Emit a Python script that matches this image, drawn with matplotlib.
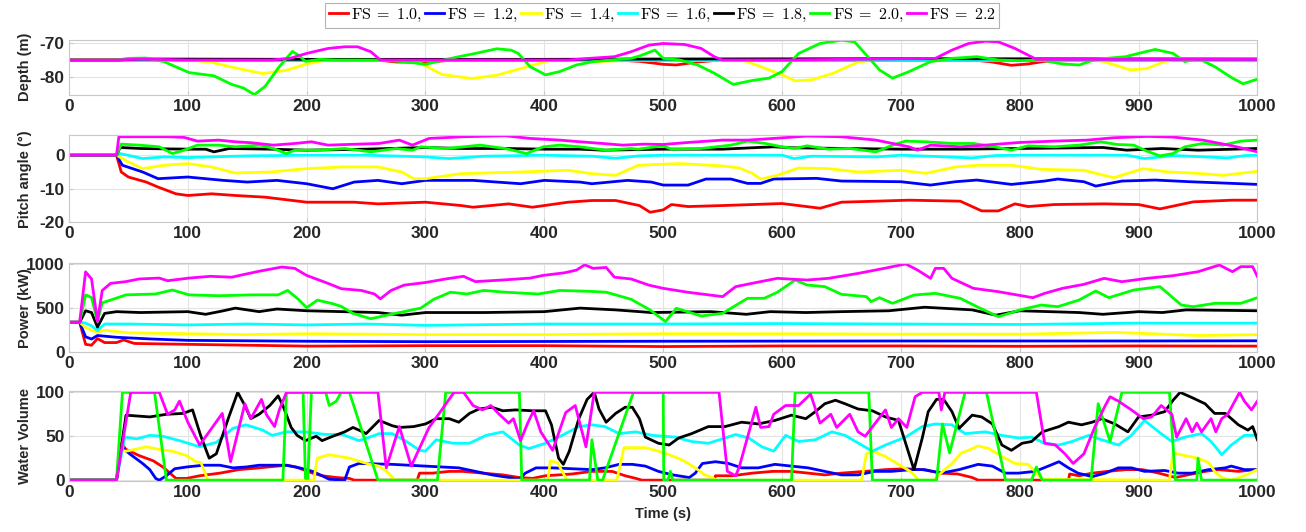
import matplotlib
matplotlib.use('Agg')
import matplotlib.pyplot as plt

plt.rcParams['mathtext.fontset'] = 'cm'
plt.rcParams['font.family'] = ['Liberation Sans', 'DejaVu Sans']
plt.rcParams['axes.unicode_minus'] = False

SERIES = ['1.0', '1.2', '1.4', '1.6', '1.8', '2.0', '2.2']
COLORS = ['#ff0000', '#0000ff', '#ffff00', '#00ffff', '#000000', '#00ff00', '#ff00ff']
XTICKS = list(range(0, 1001, 100))

# ---- depth (m) ----
depth_red = [(0, -75), (260, -75), (275, -75.6), (300, -75.7), (320, -75.1), (470, -75.2), (480, -75.4),
             (500, -76.3), (511, -76.5), (529, -75.6), (545, -75.1), (760, -75), (775, -75.5), (793, -76.6),
             (807, -76.2), (821, -75.4), (850, -75.1), (1000, -75.2)]
depth_blue = [(0, -75), (1000, -75)]
depth_yellow = [(0, -75), (100, -75), (119, -75.6), (140, -77.4), (163, -79.1), (183, -78.1), (200, -76.2),
                (215, -75.1), (280, -75.1), (296, -76), (314, -79.4), (339, -80.6), (360, -79.6), (381, -77.5),
                (404, -75.2), (420, -75), (445, -75.5), (467, -75.1), (568, -75.2), (582, -77), (600, -79.5),
                (611, -81.3), (625, -81), (643, -79), (664, -75.6), (679, -75), (864, -75), (871, -75.5),
                (893, -78), (907, -77.6), (921, -75.6), (929, -75), (1000, -75)]
depth_cyan = [(0, -75), (1000, -75)]
depth_black = [(0, -75), (40, -75), (60, -74.7), (200, -74.8), (400, -74.8), (500, -74.7), (700, -74.6),
               (1000, -74.7)]
depth_green = [(0, -75), (40, -75), (50, -74.5), (65, -74.4), (80, -75.5), (101, -78.8), (122, -79.8),
               (137, -82.4), (147, -83.5), (156, -85.5), (165, -83), (177, -77), (188, -72.4), (193, -73.5),
               (199, -75.4), (211, -74.8), (225, -75), (261, -75), (282, -75.5), (300, -76.3), (314, -75.1),
               (328, -74), (342, -73), (360, -71.6), (372, -72), (378, -73), (388, -77), (401, -79.5),
               (413, -78.5), (427, -76.5), (441, -75.5), (456, -75), (473, -74.5), (480, -73.8), (493, -72),
               (500, -74.5), (514, -75), (529, -76.5), (543, -79), (559, -82.4), (575, -81.2), (589, -80.5),
               (600, -78.5), (614, -73), (632, -70), (650, -69), (661, -69.5), (671, -73.5), (682, -78),
               (693, -80.5), (707, -78.5), (725, -75.5), (743, -74.5), (764, -74), (782, -75), (800, -75.2),
               (818, -75), (836, -76.2), (850, -76.5), (864, -74.8), (889, -74), (900, -73), (914, -71.8),
               (929, -73), (939, -75.5), (950, -74.5), (964, -77), (979, -80.5), (988, -82.2), (1000, -80.8)]
depth_magenta = [(0, -75), (40, -75), (60, -74.7), (100, -75), (170, -75), (186, -74.5), (200, -73),
                 (218, -71.5), (232, -71), (243, -71), (254, -72.5), (262, -75), (278, -75), (420, -75),
                 (438, -74.5), (459, -74), (473, -72.5), (488, -70.5), (500, -70), (518, -70.3), (532, -71.5),
                 (543, -74), (550, -75), (600, -75), (729, -74.5), (743, -72), (757, -70), (771, -69.3),
                 (782, -69.5), (796, -71.5), (814, -74.8), (1000, -74.8)]

# ---- pitch angle (deg) ----
pitch_red = [(0, 0), (40, 0), (44, -5), (50, -6.5), (65, -8), (75, -9.5), (90, -11.5), (100, -12), (120, -11.5),
             (140, -12), (165, -12.5), (200, -14), (240, -14), (260, -14.5), (300, -14), (330, -15),
             (340, -15.5), (370, -14.5), (390, -15.5), (420, -14), (440, -13.5), (460, -13.5), (480, -15),
             (489, -17), (500, -16.3), (507, -14.7), (521, -15.3), (550, -15), (600, -14.4), (632, -15.8),
             (650, -14), (679, -13.7), (707, -13.4), (750, -13.7), (768, -16.6), (782, -16.6), (796, -14.5),
             (807, -15.3), (829, -14.7), (871, -14.5), (900, -14.7), (918, -16), (946, -13.9), (979, -13.4),
             (1000, -13.4)]
pitch_blue = [(0, 0), (40, 0), (45, -3), (62, -5), (75, -7), (100, -6.5), (130, -7.5), (150, -8), (175, -7.5),
              (200, -8.5), (222, -10), (240, -8), (260, -7.5), (280, -8.5), (300, -7.5), (340, -7.5),
              (360, -8), (380, -8.5), (400, -7.5), (430, -8), (440, -8.5), (470, -7.5), (490, -8), (500, -8.9),
              (521, -8.9), (536, -7.1), (557, -7.1), (571, -8.4), (582, -8.4), (593, -7.1), (629, -6.9),
              (650, -7.7), (700, -7.9), (725, -8.9), (746, -7.9), (764, -7.4), (793, -8.7), (821, -7.7),
              (832, -7.1), (854, -7.9), (864, -9.2), (886, -7.7), (914, -7.4), (943, -7.9), (979, -8.4),
              (1000, -8.7)]
pitch_yellow = [(0, 0), (40, 0), (50, -2), (62, -4), (80, -3), (100, -2.5), (120, -3.5), (140, -5.3),
                (170, -5), (200, -4), (230, -3.5), (260, -3.5), (280, -5), (290, -7), (300, -7), (330, -5.5),
                (380, -5), (420, -4.5), (440, -5.5), (460, -6), (479, -3), (514, -2.5), (550, -3.2),
                (564, -3.8), (575, -5.4), (582, -7.1), (596, -6), (614, -3.8), (639, -4), (664, -5),
                (700, -4.5), (721, -5.4), (746, -3.5), (764, -3), (793, -3), (818, -4.2), (854, -4.5),
                (879, -6.7), (904, -4), (925, -5), (950, -5.4), (971, -6), (1000, -4.8)]
pitch_cyan = [(0, 0), (40, 0), (43, 0.5), (62, -1), (80, -0.5), (100, -0.7), (150, -0.2), (200, 0), (250, 0),
              (300, -0.5), (320, -1), (350, -0.3), (400, 0), (440, -0.3), (460, -0.9), (480, -0.2), (500, 0),
              (600, 0), (610, -1), (625, -0.3), (680, -0.5), (700, 0), (760, -0.8), (780, -0.1), (800, 0),
              (890, 0), (905, -1), (930, -0.1), (975, -0.8), (990, -0.1), (1000, 0)]
pitch_black = [(0, 0), (40, 0), (43, 2.3), (60, 2), (100, 1.8), (115, 1.8), (122, 1), (135, 2), (170, 1.8),
               (200, 1.5), (250, 1.8), (300, 2.3), (330, 2), (367, 2), (400, 1.8), (430, 1.8), (450, 1.5),
               (500, 1.8), (550, 1.8), (580, 2.3), (593, 2.5), (610, 2.2), (700, 1.8), (750, 1.8), (800, 2),
               (870, 2.3), (890, 1.5), (920, 2), (950, 1.5), (1000, 2)]
pitch_green = [(0, 0), (40, 0), (44, 3.3), (59, 3), (76, 2.5), (87, 0.5), (97, 1.5), (108, 3), (126, 3),
               (140, 2.5), (161, 3), (172, 2), (183, 0.5), (190, 1.5), (210, 1.5), (232, 2), (254, 1), (275, 2),
               (289, 1.5), (296, 2.5), (317, 2), (332, 2.5), (346, 3), (367, 2), (385, 0.5), (399, 2.5),
               (413, 3), (430, 2.5), (452, 1.5), (473, 2), (479, 1.8), (493, 2.5), (500, 2.8), (507, 1.8),
               (532, 2), (557, 3), (571, 4.2), (586, 3.5), (600, 2.5), (611, 2), (621, 2.8), (639, 1.8),
               (657, 2), (679, 1), (693, 3), (704, 4.2), (721, 4), (743, 3.5), (761, 3.5), (779, 2.5),
               (793, 1.5), (807, 2.8), (829, 2.5), (850, 3), (868, 4), (882, 3.2), (896, 3), (907, 1.2),
               (918, -0.2), (929, 0.5), (939, 2.5), (954, 3.5), (971, 3), (986, 4.2), (1000, 4.5)]
pitch_magenta = [(0, 0), (40, 0), (42, 5.5), (83, 5.5), (97, 5.3), (108, 4.2), (126, 4.5), (140, 4),
                 (154, 3.7), (172, 3), (190, 3.5), (204, 4), (218, 3), (243, 3.3), (261, 3.5), (278, 4.5),
                 (289, 3), (303, 5), (332, 5.5), (367, 5.8), (388, 5), (413, 4.5), (430, 4), (449, 3.5),
                 (466, 3), (484, 3.3), (500, 3.2), (521, 3.8), (550, 4.5), (571, 4.5), (593, 5), (621, 5.7),
                 (650, 5.5), (679, 4.5), (707, 2.5), (714, 1.5), (725, 3), (750, 2.5), (771, 3), (800, 3.8),
                 (829, 4.2), (857, 4.5), (879, 5.2), (907, 5.6), (929, 5.4), (954, 4.5), (979, 2.8), (1000, 1)]

# ---- power (kW) ----
power_red = [(0, 340), (9, 340), (14, 90), (19, 80), (24, 155), (30, 110), (40, 110), (46, 140), (55, 100),
             (100, 90), (200, 70), (300, 75), (400, 75), (500, 65), (600, 72), (700, 72), (800, 68), (900, 72),
             (1000, 70)]
power_blue = [(0, 340), (9, 340), (14, 175), (19, 150), (24, 190), (40, 170), (70, 150), (100, 135),
              (200, 125), (300, 120), (500, 125), (700, 128), (900, 128), (1000, 130)]
power_yellow = [(0, 340), (9, 340), (14, 280), (19, 250), (24, 225), (30, 250), (50, 220), (100, 210),
                (150, 200), (200, 210), (300, 200), (400, 200), (500, 210), (600, 210), (700, 205), (800, 205),
                (880, 225), (950, 190), (1000, 200)]
power_cyan = [(0, 340), (9, 340), (14, 330), (19, 300), (24, 245), (30, 320), (50, 320), (100, 310),
              (150, 320), (200, 310), (250, 320), (300, 305), (400, 320), (500, 320), (600, 325), (700, 320),
              (800, 315), (900, 330), (1000, 330)]
power_black = [(0, 340), (9, 340), (14, 470), (19, 450), (24, 285), (30, 440), (40, 460), (60, 450),
               (100, 460), (115, 430), (130, 470), (140, 500), (160, 460), (175, 490), (200, 470), (230, 460),
               (260, 450), (280, 420), (300, 450), (350, 450), (400, 460), (430, 500), (460, 480), (490, 450),
               (540, 460), (570, 430), (590, 460), (620, 450), (650, 460), (690, 470), (720, 510), (760, 480),
               (780, 420), (800, 470), (850, 450), (870, 430), (900, 460), (920, 450), (940, 480), (1000, 470)]
power_green = [(0, 340), (9, 340), (14, 650), (19, 620), (24, 350), (28, 560), (37, 600), (48, 650),
               (73, 660), (87, 705), (101, 650), (126, 640), (154, 650), (176, 650), (184, 700), (193, 600),
               (200, 505), (209, 590), (222, 550), (229, 520), (239, 440), (254, 380), (271, 430), (289, 480),
               (296, 500), (307, 600), (321, 680), (335, 660), (349, 700), (367, 680), (395, 660), (413, 700),
               (438, 690), (452, 680), (473, 600), (479, 554), (489, 479), (502, 347), (511, 498), (532, 411),
               (550, 441), (571, 611), (585, 611), (596, 679), (611, 818), (621, 762), (636, 743), (650, 656),
               (671, 630), (675, 573), (682, 618), (693, 554), (711, 648), (729, 667), (750, 611), (764, 516),
               (782, 403), (800, 479), (818, 535), (832, 516), (850, 592), (864, 694), (875, 618), (896, 705),
               (918, 743), (936, 535), (946, 516), (964, 554), (986, 554), (1000, 618)]
power_magenta = [(0, 340), (9, 340), (14, 910), (19, 830), (24, 350), (28, 700), (35, 780), (48, 800),
                 (59, 830), (76, 840), (83, 810), (101, 840), (119, 860), (137, 850), (147, 880), (161, 920),
                 (179, 965), (190, 950), (200, 870), (218, 780), (229, 720), (246, 700), (257, 660), (262, 605),
                 (271, 700), (282, 760), (300, 790), (317, 830), (332, 860), (342, 800), (367, 820), (388, 840),
                 (399, 870), (417, 900), (427, 930), (434, 990), (441, 950), (452, 960), (459, 850), (473, 830),
                 (488, 760), (500, 724), (521, 679), (550, 630), (561, 743), (579, 792), (596, 837), (621, 818),
                 (639, 837), (664, 893), (686, 950), (704, 1000), (714, 931), (725, 837), (729, 950),
                 (736, 950), (743, 837), (761, 724), (782, 686), (811, 618), (821, 667), (836, 724), (854, 769),
                 (871, 837), (886, 799), (907, 837), (929, 867), (950, 912), (968, 988), (979, 912), (986, 969),
                 (996, 969), (1000, 856)]

# ---- water volume ----
water_red = [(0, 0), (40, 0), (44, 42), (48, 35), (59, 28), (71, 22), (79, 15), (85, 8), (90, 2), (99, 2),
             (110, 5), (127, 8), (143, 12), (160, 14), (183, 17), (191, 15), (205, 8), (213, 5), (225, 3),
             (236, 2), (240, 0), (293, 0), (295, 8), (306, 8), (320, 10), (331, 10), (348, 8), (365, 6),
             (379, 3), (390, 2), (401, 5), (423, 7), (440, 10), (457, 10), (468, 5), (477, 2), (482, 0),
             (543, 0), (544, 5), (558, 5), (575, 8), (592, 10), (608, 10), (622, 8), (636, 6), (650, 8),
             (670, 10), (687, 12), (704, 13), (718, 12), (734, 8), (748, 7), (760, 3), (765, 0), (841, 0),
             (842, 7), (850, 5), (861, 8), (874, 10), (889, 12), (903, 12), (917, 8), (931, 3), (945, 7),
             (956, 10), (967, 12), (984, 10), (1000, 12)]
water_blue = [(0, 0), (40, 0), (44, 38), (51, 30), (62, 19), (68, 12), (73, 2), (76, 0), (82, 5), (89, 13),
              (99, 15), (113, 17), (127, 17), (138, 14), (149, 15), (160, 17), (183, 17), (194, 14), (205, 10),
              (213, 5), (219, 1), (232, 0), (236, 15), (244, 19), (272, 18), (300, 16), (328, 14), (342, 10),
              (356, 6), (370, 3), (379, 1), (384, 8), (393, 14), (407, 14), (440, 12), (451, 14), (463, 18),
              (474, 18), (485, 16), (496, 10), (508, 6), (522, 3), (527, 8), (533, 19), (544, 21), (555, 19),
              (566, 14), (580, 14), (594, 18), (608, 16), (622, 14), (636, 10), (650, 6), (664, 6), (678, 10),
              (692, 10), (709, 12), (720, 12), (734, 8), (749, 12), (765, 18), (777, 16), (788, 8), (799, 8),
              (813, 10), (824, 16), (833, 21), (841, 14), (849, 8), (861, 4), (872, 8), (883, 14), (894, 14),
              (905, 10), (922, 11), (933, 8), (945, 8), (959, 12), (973, 14), (978, 16), (989, 12), (1000, 12)]
water_yellow = [(0, 0), (40, 0), (44, 34), (48, 33), (59, 36), (65, 38), (76, 35), (87, 33), (99, 28),
                (107, 21), (111, 20), (117, 0), (206, 0), (209, 25), (219, 29), (236, 25), (253, 18), (261, 16),
                (269, 8), (274, 0), (403, 0), (405, 22), (411, 20), (415, 10), (419, 0), (461, 0), (467, 37),
                (485, 37), (496, 33), (505, 29), (516, 23), (527, 14), (535, 6), (541, 3), (545, 0), (667, 0),
                (671, 30), (676, 33), (687, 27), (698, 18), (709, 9), (715, 0), (728, 0), (732, 6), (743, 19),
                (751, 31), (757, 34), (765, 39), (774, 36), (785, 27), (796, 19), (807, 18), (813, 10),
                (819, 1), (926, 0), (929, 31), (939, 28), (950, 25), (959, 20), (964, 10), (970, 3), (978, 0),
                (989, 5), (1000, 12)]
water_cyan = [(0, 0), (40, 0), (47, 49), (57, 47), (68, 51), (79, 50), (93, 45), (110, 38), (124, 43),
              (138, 59), (149, 63), (163, 57), (171, 51), (183, 55), (199, 55), (216, 52), (230, 52), (244, 45),
              (253, 49), (261, 53), (272, 53), (284, 44), (295, 34), (300, 33), (309, 46), (323, 42), (337, 42),
              (351, 51), (365, 55), (379, 40), (387, 36), (401, 42), (415, 51), (429, 61), (440, 63), (451, 61),
              (463, 53), (477, 55), (491, 51), (510, 49), (524, 44), (538, 42), (552, 48), (561, 52), (572, 48),
              (583, 38), (593, 33), (603, 51), (614, 44), (628, 46), (642, 55), (653, 51), (667, 40), (676, 33),
              (687, 40), (704, 49), (718, 61), (729, 64), (743, 63), (754, 53), (771, 55), (785, 51), (799, 48),
              (810, 49), (821, 42), (833, 40), (844, 44), (858, 51), (869, 46), (883, 40), (894, 51), (905, 68),
              (917, 55), (928, 44), (939, 49), (953, 53), (961, 44), (970, 29), (978, 40), (989, 51),
              (1000, 51)]
water_black = [(0, 0), (40, 0), (48, 74), (68, 72), (82, 75), (96, 76), (104, 80), (111, 50), (118, 25),
               (124, 30), (134, 70), (142, 100), (148, 85), (153, 70), (160, 75), (169, 85), (176, 96),
               (180, 85), (187, 60), (192, 51), (199, 45), (208, 50), (213, 45), (222, 50), (232, 55), (239, 60),
               (244, 57), (250, 53), (261, 68), (272, 62), (278, 60), (290, 61), (300, 64), (309, 70), (320, 70),
               (328, 66), (337, 76), (345, 81), (356, 83), (365, 79), (376, 80), (390, 79), (401, 79), (406, 63),
               (412, 25), (416, 18), (421, 33), (429, 70), (436, 92), (442, 100), (446, 81), (452, 66),
               (460, 76), (468, 83), (474, 83), (480, 70), (485, 49), (496, 42), (505, 40), (513, 48), (524, 53),
               (538, 61), (552, 61), (566, 66), (580, 64), (594, 68), (608, 74), (620, 70), (628, 78), (636, 87),
               (645, 91), (653, 87), (664, 81), (676, 79), (687, 72), (698, 68), (704, 42), (711, 12), (718, 48),
               (723, 78), (730, 92), (736, 92), (743, 78), (749, 59), (760, 74), (768, 72), (777, 64), (785, 40),
               (793, 34), (802, 42), (810, 44), (819, 55), (833, 61), (841, 66), (852, 63), (861, 66), (869, 70),
               (880, 64), (891, 55), (900, 72), (911, 74), (922, 78), (929, 91), (935, 100), (945, 94),
               (956, 87), (964, 76), (973, 76), (984, 63), (992, 57), (996, 61), (1000, 46)]
water_green = [(0, 0), (40, 0), (45, 100), (72, 100), (82, 0), (180, 0), (183, 100), (197, 100), (199, 2),
               (201, 2), (204, 100), (216, 100), (219, 85), (225, 90), (229, 100), (236, 100), (260, 0),
               (310, 0), (317, 100), (379, 100), (381, 0), (438, 0), (440, 46), (445, 0), (449, 0), (475, 100),
               (500, 100), (500.5, 0), (504, 0), (506, 10), (508, 0), (608, 0), (611, 100), (673, 100),
               (676, 0), (730, 0), (735, 64), (741, 31), (754, 100), (772, 100), (788, 0), (810, 0), (814, 15),
               (819, 0), (860, 0), (866, 87), (876, 44), (886, 100), (926, 100), (931, 0), (949, 0), (950, 25),
               (953, 0), (1000, 0)]
water_magenta = [(0, 0), (40, 0), (52, 100), (76, 100), (83, 75), (89, 80), (93, 90), (100, 66), (110, 40),
                 (129, 76), (136, 21), (148, 87), (153, 70), (162, 92), (166, 75), (173, 61), (177, 80),
                 (183, 100), (260, 100), (267, 14), (278, 61), (288, 16), (303, 60), (311, 75), (324, 100),
                 (332, 100), (340, 85), (348, 80), (355, 85), (362, 75), (370, 65), (374, 70), (380, 45),
                 (386, 65), (391, 79), (397, 55), (407, 34), (418, 77), (426, 85), (435, 38), (442, 100),
                 (547, 100), (554, 10), (561, 5), (564, 15), (578, 83), (582, 60), (589, 61), (593, 75),
                 (603, 85), (614, 85), (624, 98), (632, 65), (641, 75), (646, 60), (657, 75), (664, 55),
                 (670, 50), (687, 80), (692, 60), (698, 70), (705, 60), (712, 95), (718, 100), (732, 100),
                 (734, 80), (737, 100), (814, 100), (821, 42), (830, 40), (838, 30), (845, 19), (854, 30),
                 (863, 60), (872, 85), (876, 95), (883, 90), (894, 80), (904, 70), (911, 72), (919, 85),
                 (928, 75), (932, 49), (940, 70), (945, 55), (949, 65), (953, 55), (961, 70), (965, 55),
                 (970, 70), (975, 75), (985, 100), (989, 90), (995, 80), (1000, 90)]

DEPTH = [depth_red, depth_blue, depth_yellow, depth_cyan, depth_black, depth_green, depth_magenta]
PITCH = [pitch_red, pitch_blue, pitch_yellow, pitch_cyan, pitch_black, pitch_green, pitch_magenta]
POWER = [power_red, power_blue, power_yellow, power_cyan, power_black, power_green, power_magenta]
WATER = [water_red, water_blue, water_yellow, water_cyan, water_black, water_green, water_magenta]

PANELS = [
    (DEPTH, 'Depth (m)', (-85.6, -68.8), [-80, -70], [0.8214, 0.1043]),
    (PITCH, 'Pitch angle (°)', (-20, 6), [-20, -10, 0], [0.5821, 0.1640]),
    (POWER, 'Power (kW)', (0, 1005), [0, 500, 1000], [0.3378, 0.1669]),
    (WATER, 'Water Volume', (-1, 101.5), [0, 50, 100], [0.0958, 0.1692]),
]

fig = plt.figure(figsize=(13.06, 5.32), dpi=100)
handles = []
for i, (data, ylabel, ylim, yticks, (bottom, height)) in enumerate(PANELS):
    ax = fig.add_axes([0.0528, bottom, 0.910, height])
    for series, color in zip(data, COLORS):
        t, v = zip(*series)
        line, = ax.plot(t, v, color=color, linewidth=2)
        if i == 0:
            handles.append(line)
    ax.set_xlim(0, 1000)
    ax.set_ylim(*ylim)
    ax.set_xticks(XTICKS)
    ax.set_yticks(yticks)
    ax.grid(True, color='#e3e3e3', linewidth=0.8)
    ax.set_axisbelow(True)
    for s in ax.spines.values():
        s.set_color('#c8c8c8')
    ax.tick_params(direction='in', length=3, color='#c8c8c8', labelsize=12.5, labelcolor='#262626', pad=3)
    for lab in ax.get_xticklabels() + ax.get_yticklabels():
        lab.set_fontweight('bold')
    ax.set_ylabel(ylabel, fontsize=10.5, fontweight='bold', color='#262626')
    ax.yaxis.set_label_coords(-0.031, 0.5)
    if i == 3:
        ax.set_xlabel('Time (s)', fontsize=10.5, fontweight='bold', color='#262626', labelpad=5)

labels = [r'$\mathrm{FS}\;=\;' + s + (',' if k < 6 else '') + '$' for k, s in enumerate(SERIES)]
leg = fig.legend(handles, labels, loc='center', bbox_to_anchor=(0.507, 0.971), ncol=7, fontsize=11.5,
                 handlelength=1.2, handletextpad=0.2, columnspacing=0.2, borderpad=0.25,
                 frameon=True, fancybox=False, edgecolor='#a0a0a0')
leg.get_frame().set_linewidth(0.8)

fig.savefig('out.png', dpi=100)
